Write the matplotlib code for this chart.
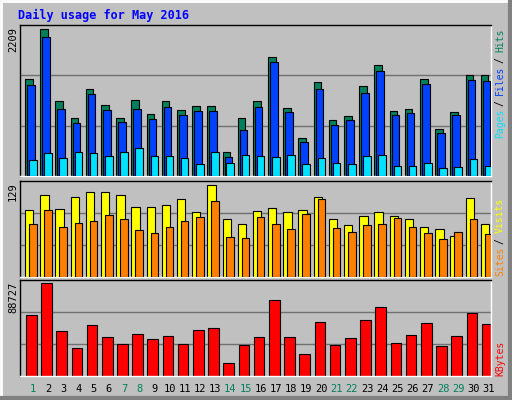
import matplotlib
matplotlib.use("Agg")
import matplotlib.pyplot as plt
from matplotlib.patches import Rectangle

days = list(range(1, 32))
weekend = [1, 7, 8, 14, 15, 21, 22, 28, 29]
hits = [1455,2209,1130,870,1305,1065,870,1140,930,1130,990,1050,1050,360,870,1130,1785,1020,570,1410,840,900,1350,1665,975,1005,1455,705,960,1515,1515]
files = [1365,2090,1005,795,1230,990,810,1005,855,1035,915,975,975,285,690,1035,1710,960,510,1305,765,840,1245,1575,915,945,1380,645,915,1440,1425]
pages = [240,345,270,360,345,300,360,420,300,300,270,180,360,195,315,300,285,315,180,270,195,180,300,315,150,150,195,120,135,255,150]
visits = [94,116,95,113,119,119,116,99,98,101,110,91,129,81,74,93,97,91,94,113,81,73,86,91,86,81,70,68,58,111,74]
sites = [75,94,70,76,79,87,81,66,62,70,79,84,107,56,55,84,75,68,88,109,69,63,73,75,83,70,62,54,63,81,61]
kbytes = [58600,88727,43000,26550,48900,37240,30440,40150,35300,38200,30440,44330,46270,11980,29470,37240,73180,37240,20720,51800,29470,36270,53750,66380,31410,39180,50840,28490,38200,60550,49870]

C_HITS, C_FILES, C_PAGES = "#00805C", "#0040FF", "#00E0FF"
C_VIS, C_SITES, C_KB = "#FFFF00", "#FF8000", "#FF0000"
BG = "#C0C0C0"
W, H = 512, 400

fig = plt.figure(figsize=(5.12, 4.0), dpi=100, facecolor=BG)
mono = "DejaVu Sans Mono"

# bevel border
fig.add_artist(Rectangle((0.002, 0.0025), 0.996, 0.995, transform=fig.transFigure, fill=False, ec="white", lw=2))
fig.add_artist(plt.Line2D([0.004, 0.998], [0.004, 0.004], transform=fig.transFigure, color="#808080", lw=3))
fig.add_artist(plt.Line2D([0.996, 0.996], [0.004, 0.996], transform=fig.transFigure, color="#808080", lw=3))

def ax_at(top, bottom):
    a = fig.add_axes([20 / W, (H - bottom) / H, 471 / W, (bottom - top) / H])
    a.set_facecolor(BG)
    a.set_xlim(0, 31)
    a.set_xticks([])
    a.set_yticks([])
    for s in a.spines.values():
        s.set_color("black")
        s.set_linewidth(1)
    a.spines["bottom"].set_color("white")
    a.spines["right"].set_color("white")
    return a

x0 = [d - 1 for d in days]
GRID = "#707070"

a1 = ax_at(25, 176)
top1 = 2269
a1.set_ylim(0, top1)
for g in (top1 / 3, 2 * top1 / 3):
    a1.axhline(g, color=GRID, lw=1, zorder=0)
a1.bar([x + 0.33 for x in x0], hits, width=0.5, align="edge", color=C_HITS, ec="black", lw=0.8, zorder=2)
a1.bar([x + 0.46 for x in x0], files, width=0.5, align="edge", color=C_FILES, ec="black", lw=0.8, zorder=3)
a1.bar([x + 0.59 for x in x0], pages, width=0.5, align="edge", color=C_PAGES, ec="black", lw=0.8, zorder=4)

a2 = ax_at(181, 277)
top2 = 135
a2.set_ylim(0, top2)
for g in (top2 / 3, 2 * top2 / 3):
    a2.axhline(g, color=GRID, lw=1, zorder=0)
a2.bar([x + 0.33 for x in x0], visits, width=0.55, align="edge", color=C_VIS, ec="black", lw=0.8, zorder=2)
a2.bar([x + 0.59 for x in x0], sites, width=0.5, align="edge", color=C_SITES, ec="black", lw=0.8, zorder=3)

a3 = ax_at(280, 376)
top3 = 91965
a3.set_ylim(0, top3)
for g in (top3 / 3, 2 * top3 / 3):
    a3.axhline(g, color=GRID, lw=1, zorder=0)
a3.bar([x + 0.39 for x in x0], kbytes, width=0.7, align="edge", color=C_KB, ec="black", lw=0.8, zorder=2)

# day labels
for d in days:
    fig.text((20 + (d - 1 + 0.85) * 471 / 31) / W, 1 - 389 / H, str(d), ha="center", va="center",
             fontsize=7.5, family=mono, color=C_HITS if d in weekend else "black")

# title
fig.text(18 / W, 1 - 15 / H, "Daily usage for May 2016", ha="left", va="center",
         fontsize=8.5, family=mono, weight="bold", color="#0000FF")

# left max labels
for txt, ytop in ((str(max(hits)), 27), (str(max(visits)), 182), (str(max(kbytes)), 282)):
    fig.text(13 / W, 1 - ytop / H, txt, rotation=90, ha="center", va="top", fontsize=7.5, family=mono)

# right legends: each piece placed by character index (no spaces drawn)
def vlabel(parts, ybot):
    step = 5.35
    idx = 0
    for s, c in parts:
        if s.strip():
            n_lead = len(s) - len(s.lstrip())
            word = s.strip()
            y = ybot - step * (idx + n_lead)
            fig.text(500 / W, 1 - y / H, word, rotation=90, ha="center", va="bottom",
                     fontsize=7, family=mono, color=c)
        idx += len(s)

vlabel([("Pages", C_PAGES), (" / ", "black"), ("Files", C_FILES), (" / ", "black"), ("Hits", C_HITS)], 138)
vlabel([("Sites", C_SITES), (" / ", "black"), ("Visits", C_VIS)], 276)
vlabel([("KBytes", C_KB)], 376)

fig.savefig("out.png", dpi=100, facecolor=BG)
